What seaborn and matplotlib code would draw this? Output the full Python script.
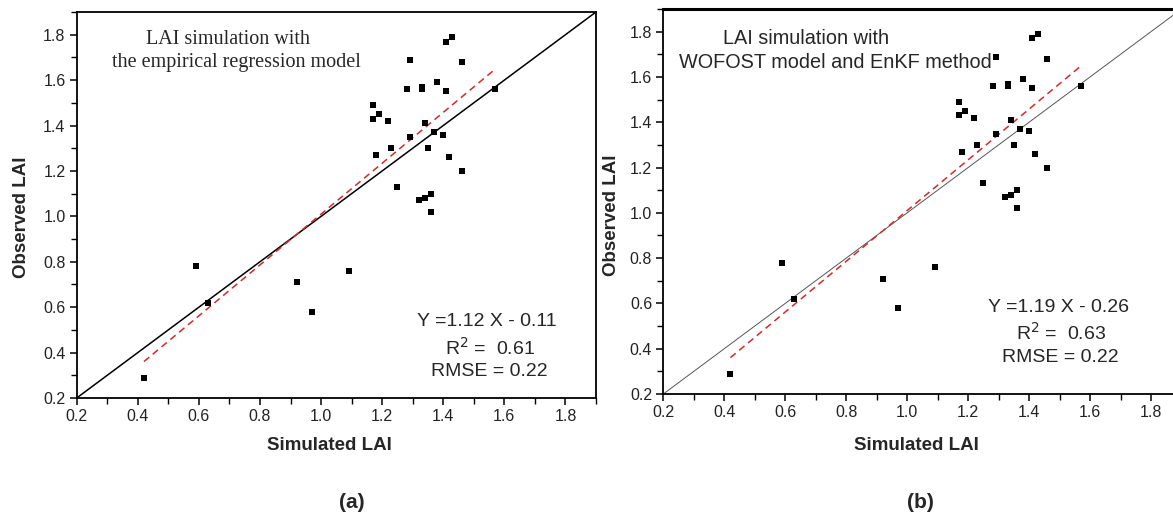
import numpy as np
import pandas as pd
import matplotlib
matplotlib.use("Agg")
import matplotlib.pyplot as plt
from matplotlib.ticker import MultipleLocator
import seaborn as sns

# ---- data ----
simulated = [0.42, 0.59, 0.63, 0.92, 0.97, 1.09, 1.17, 1.17, 1.19, 1.22,
             1.18, 1.23, 1.25, 1.29, 1.28, 1.29, 1.32, 1.33, 1.33, 1.34,
             1.34, 1.35, 1.36, 1.36, 1.37, 1.38, 1.40, 1.41, 1.41, 1.43,
             1.42, 1.46, 1.46, 1.57]
observed = [0.29, 0.78, 0.62, 0.71, 0.58, 0.76, 1.49, 1.43, 1.45, 1.42,
            1.27, 1.30, 1.13, 1.69, 1.56, 1.35, 1.07, 1.56, 1.57, 1.41,
            1.08, 1.30, 1.10, 1.02, 1.37, 1.59, 1.36, 1.55, 1.77, 1.79,
            1.26, 1.68, 1.20, 1.56]
fit_x = [0.42, 1.57]
fit_slope = 1.12
fit_intercept = -0.11
one_to_one = [0.2, 1.9]

title_line1 = ["LAI simulation with", "LAI simulation with"]
title_line2 = ["the empirical regression model", "WOFOST model and EnKF method"]
equations = ["Y =1.12 X - 0.11", "Y =1.19 X - 0.26"]
r2_values = ["0.61", "0.63"]
rmse_values = ["0.22", "0.22"]
panel_labels = ["(a)", "(b)"]
tick_values = [0.2, 0.4, 0.6, 0.8, 1.0, 1.2, 1.4, 1.6, 1.8]

df = pd.DataFrame({"Simulated LAI": simulated, "Observed LAI": observed})

sns.set_theme(style="ticks")
plt.rcParams["font.family"] = ["Liberation Sans", "DejaVu Sans"]

W, H = 1173, 514
fig = plt.figure(figsize=(W / 100, H / 100), dpi=100)

def fx(px):
    return px / W

def fy(py):
    return 1 - py / H

# axes rectangles in pixels: left, right, top, bottom
rects = [(76.7, 596, 12, 398), (663.3, 1181.5, 9, 394)]
axes = []
for (l, r, t, b) in rects:
    ax = fig.add_axes([fx(l), fy(b), (r - l) / W, (b - t) / H])
    axes.append(ax)

for i, ax in enumerate(axes):
    sns.scatterplot(data=df, x="Simulated LAI", y="Observed LAI", ax=ax,
                    marker="s", s=18, color="black", edgecolor="black",
                    linewidth=0, zorder=3)
    # 1:1 line
    if i == 0:
        ax.plot(one_to_one, one_to_one, color="black", lw=1.1, zorder=2)
    else:
        ax.plot(one_to_one, one_to_one, color="#555555", lw=0.7, zorder=2)
    # regression line
    fx_arr = np.array(fit_x)
    ax.plot(fx_arr, fit_slope * fx_arr + fit_intercept, color="#d42a2a",
            lw=1.1, ls=(0, (4.5, 3)), zorder=2)

    ax.set_xlim(0.2, 1.9)
    ax.set_ylim(0.2, 1.9)
    ax.set_xticks(tick_values)
    ax.set_yticks(tick_values)
    ax.set_xticklabels([f"{v:.1f}" for v in tick_values])
    ax.set_yticklabels([f"{v:.1f}" for v in tick_values])
    ax.xaxis.set_minor_locator(MultipleLocator(0.1))
    ax.yaxis.set_minor_locator(MultipleLocator(0.1))
    ax.tick_params(which="major", direction="out", length=5, width=1.1,
                   labelsize=11.5, labelcolor="#222222", color="black", pad=3)
    ax.tick_params(which="minor", direction="out", length=4, width=1.0,
                   color="black")
    ax.tick_params(top=False, right=False, which="both")
    for sp in ax.spines.values():
        sp.set_visible(True)
        sp.set_color("black")
        sp.set_linewidth(1.3)
    if i == 1:
        ax.spines["top"].set_linewidth(2.2)
    ax.set_xlabel("")
    ax.set_ylabel("")

# titles in panels
serif = ["Liberation Serif", "DejaVu Serif"]
fig.text(fx(228), fy(39), title_line1[0], ha="center", va="center",
         family=serif, fontsize=14.5)
fig.text(fx(236), fy(63), title_line2[0], ha="center", va="center",
         family=serif, fontsize=14.5)
fig.text(fx(806), fy(38), title_line1[1], ha="center", va="center",
         fontsize=14.3)
fig.text(fx(835), fy(63), title_line2[1], ha="center", va="center",
         fontsize=14.3)

# stats text
centers = [(487, 321, 348, 372), (1058, 307, 333, 358)]
for i, (cx, y1, y2, y3) in enumerate(centers):
    fig.text(fx(cx), fy(y1), equations[i], ha="center", va="center", fontsize=14)
    fig.text(fx(cx + 3), fy(y2), "R$^2$ =  " + r2_values[i], ha="center",
             va="center", fontsize=14)
    fig.text(fx(cx + 2), fy(y3), "RMSE = " + rmse_values[i], ha="center",
             va="center", fontsize=14)

# axis labels
xl = [(329, 445), (916, 445)]
yl = [(22, 217), (612, 215)]
for i in range(2):
    fig.text(fx(xl[i][0]), fy(xl[i][1]), "Simulated LAI", ha="center",
             va="center", fontsize=13.5, fontweight="bold")
    fig.text(fx(yl[i][0]), fy(yl[i][1]), "Observed LAI", ha="center",
             va="center", fontsize=13.5, fontweight="bold", rotation=90)

# panel labels
fig.text(fx(352), fy(503), panel_labels[0], ha="center", va="center",
         fontsize=15, fontweight="bold")
fig.text(fx(920), fy(503), panel_labels[1], ha="center", va="center",
         fontsize=15, fontweight="bold")

fig.savefig("out.png", dpi=100)
